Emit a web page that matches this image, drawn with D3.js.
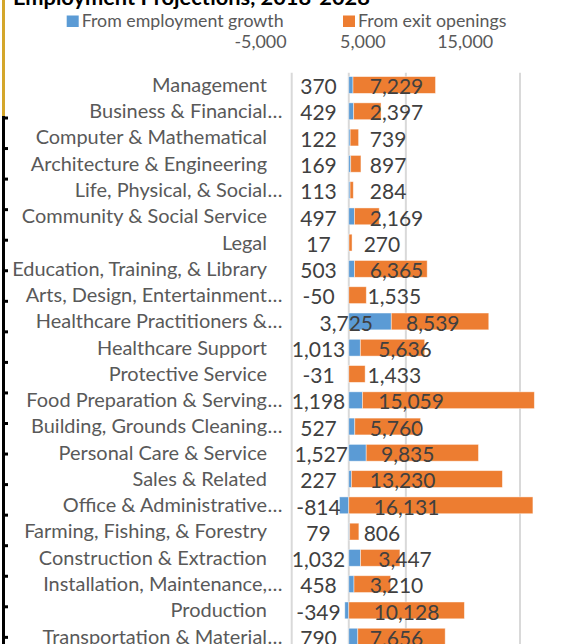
<!DOCTYPE html>
<html><head><meta charset="utf-8">
<script src="https://cdn.jsdelivr.net/npm/d3@7"></script>
<style>body{margin:0;background:#fff}svg{display:block}</style>
</head><body><svg id="c" width="584" height="644"></svg>
<script>
const titleText = "Employment Projections, 2018-2028";
const seriesNames = ["From employment growth", "From exit openings"];
const categoryLabels = ["Management","Business & Financial\u2026","Computer & Mathematical","Architecture & Engineering","Life, Physical, & Social\u2026","Community & Social Service","Legal","Education, Training, & Library","Arts, Design, Entertainment\u2026","Healthcare Practitioners &\u2026","Healthcare Support","Protective Service","Food Preparation & Serving\u2026","Building, Grounds Cleaning\u2026","Personal Care & Service","Sales & Related","Office & Administrative\u2026","Farming, Fishing, & Forestry","Construction & Extraction","Installation, Maintenance,\u2026","Production","Transportation & Material\u2026"];
const growth = [370,429,122,169,113,497,17,503,-50,3725,1013,-31,1198,527,1527,227,-814,79,1032,458,-349,790];
const exits = [7229,2397,739,897,284,2169,270,6365,1535,8539,5636,1433,15059,5760,9835,13230,16131,806,3447,3210,10128,7656];
const tickValues = [-5000, 5000, 15000];
const gridValues = [-5000, 0, 5000, 15000];

const colors = ["#5B9BD5", "#ED7D31"];
const FONT = "Lato, 'Open Sans', sans-serif";
const svg = d3.select("#c");
const locale = d3.formatLocale({decimal: ".", thousands: ",", grouping: [3], currency: ["$", ""], minus: "-"});
const fmt = locale.format(",");

function fit(sel, refText, target) {
  const t = svg.append("text").attr("font-family", FONT).attr("font-size", 20)
    .attr("font-weight", sel.attr("font-weight") || "normal").text(refText);
  const w = t.node().getComputedTextLength(); t.remove();
  sel.attr("font-size", 20 * target / w);
  return 20 * target / w;
}

// left border decoration
svg.append("line").attr("x1",3.5).attr("x2",3.5).attr("y1",0).attr("y2",116)
  .attr("stroke","#D4A62A").attr("stroke-width",3);
svg.append("line").attr("x1",3.5).attr("x2",3.5).attr("y1",116).attr("y2",644)
  .attr("stroke","#000").attr("stroke-width",3);
const borderTicks = d3.range(0, 18).map(i => 118 + i * 30.55);
svg.selectAll(".bt").data(borderTicks).join("line")
  .attr("x1",2).attr("x2",8).attr("y1",d=>d).attr("y2",d=>d)
  .attr("stroke","#000").attr("stroke-width",3);

// scales
const x = d3.scaleLinear().domain([-5000, 15000]).range([291.7, 520]);
const xt = d3.scaleLinear().domain([-5000, 15000]).range([260, 464.7]);
const step = 26.27;
const y = d3.scaleBand().domain(categoryLabels)
  .range([85 - step/2, 85 - step/2 + step * categoryLabels.length]).paddingInner(0.36).paddingOuter(0.18);

// title
const title = svg.append("text").attr("x", 13).attr("y", 4.5).attr("font-family", FONT)
  .attr("font-weight", "bold").attr("fill", "#000").text(titleText);
fit(title, titleText, 357);

// legend
const legX = [66.7, 343];
const leg = svg.append("g");
seriesNames.forEach((n, i) => {
  leg.append("rect").attr("x", legX[i]).attr("y", 15.5).attr("width", 12).attr("height", 11.5).attr("fill", colors[i]);
  leg.append("text").attr("class","legtxt").attr("x", legX[i] + 15).attr("y", 26.8)
    .attr("font-family", FONT).attr("fill", "#595959").text(n);
});
fit(leg.selectAll(".legtxt"), seriesNames[0], 202);

// axis tick labels
const ax = svg.append("g").attr("transform", "translate(0,51.3)")
  .call(d3.axisTop(xt).tickValues(tickValues).tickFormat(fmt).tickSize(0));
ax.select(".domain").remove();
ax.selectAll("text").attr("font-family", FONT).attr("fill", "#595959");
fit(ax.selectAll("text"), "15,000", 56);

// gridlines
svg.selectAll(".grid").data(gridValues).join("line")
  .attr("x1", d => x(d)).attr("x2", d => x(d)).attr("y1", 72.7).attr("y2", 644)
  .attr("stroke", "#D9D9D9").attr("stroke-width", 2);

// category labels
const catG = svg.append("g");
categoryLabels.forEach((c, i) => {
  const trunc = c.endsWith("\u2026");
  const main = trunc ? c.slice(0, -1) : c;
  const yy = y(c) + y.bandwidth() / 2 + 6.9;
  catG.append("text").attr("class","cat").attr("x", 267).attr("y", yy).attr("text-anchor","end")
    .attr("font-family", FONT).attr("fill", "#595959").text(main);
  if (trunc) catG.append("text").attr("class","cat").attr("x", 267.5).attr("y", yy)
    .attr("font-family", FONT).attr("fill", "#595959").text("\u2026");
});
fit(catG.selectAll(".cat"), "Management", 115);

// stacked data
const rows = categoryLabels.map((c, i) => ({ c, g: growth[i], e: exits[i] }));
const bars = svg.append("g");
rows.forEach(r => {
  const g0 = Math.min(0, r.g), g1 = Math.max(0, r.g);
  const e0 = r.g > 0 ? r.g : 0, e1 = e0 + r.e;
  bars.append("rect").attr("x", x(g0)).attr("width", x(g1) - x(g0))
    .attr("y", y(r.c)).attr("height", y.bandwidth()).attr("fill", colors[0])
    .attr("stroke", "rgba(255,255,255,0.55)").attr("stroke-width", 0.8);
  bars.append("rect").attr("x", x(e0)).attr("width", x(e1) - x(e0))
    .attr("y", y(r.c)).attr("height", y.bandwidth()).attr("fill", colors[1])
    .attr("stroke", "rgba(255,255,255,0.55)").attr("stroke-width", 0.8);
});

// data labels
const lab = svg.append("g");
const blueTexts = rows.map(r => {
  const cx = Math.max(318.5, x(Math.max(r.g, 0)) - 45);
  return lab.append("text").attr("class","dl").attr("x", cx).attr("y", y(r.c) + y.bandwidth()/2 + 9.2)
    .attr("text-anchor", "middle").attr("font-family", FONT).attr("fill", "#404040").text(fmt(r.g));
});
fit(lab.selectAll(".dl"), "16,131", 65.7);
const dlSize = +lab.select(".dl").attr("font-size");
rows.forEach((r, i) => {
  const bt = blueTexts[i];
  const w = bt.node().getComputedTextLength();
  const right = +bt.attr("x") + w / 2;
  lab.append("text").attr("x", right + 33).attr("y", y(r.c) + y.bandwidth()/2 + 9.2)
    .attr("font-family", FONT).attr("font-size", dlSize).attr("fill", "#404040").text(fmt(r.e));
});
</script></body></html>
